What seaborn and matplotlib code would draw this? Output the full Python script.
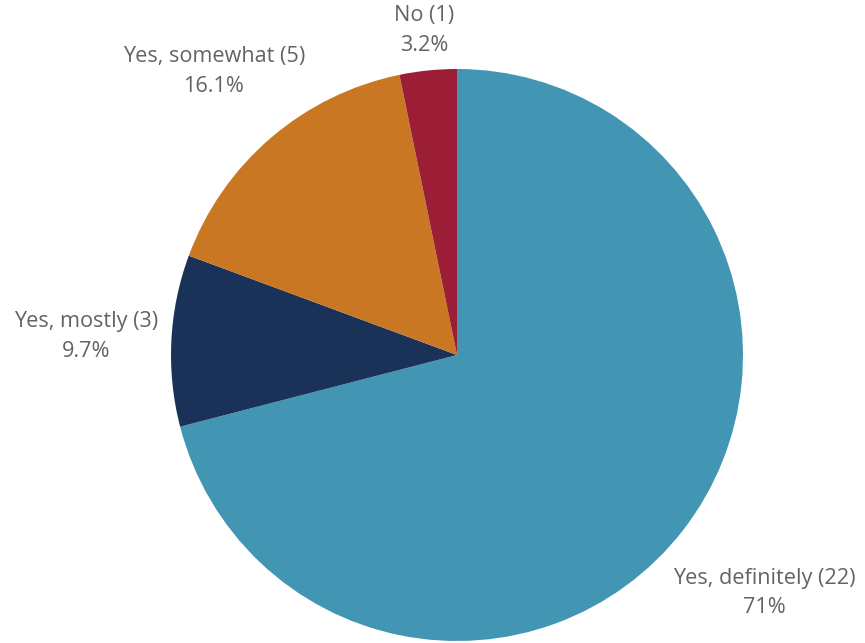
import numpy as np
import matplotlib
matplotlib.use("Agg")
import matplotlib.pyplot as plt
import seaborn as sns

# Survey responses
categories = ["Yes, definitely", "Yes, mostly", "Yes, somewhat", "No"]
counts = [22, 3, 5, 1]
colors = ["#4396B3", "#1A3258", "#C97722", "#9B1E36"]
# radial distance of each label (in pie radii)
label_dist = [1.36, 1.30, 1.305, 1.14]

sns.set_theme(style="white")
plt.rcParams["font.family"] = ["Open Sans", "DejaVu Sans"]

W, H = 865, 643
fig = plt.figure(figsize=(W / 100, H / 100), dpi=100)
cx, cy, r = 457, 355, 286
ax = fig.add_axes([(cx - r) / W, (H - cy - r) / H, 2 * r / W, 2 * r / H])

wedges, _ = ax.pie(counts, colors=sns.color_palette(colors), startangle=90,
                   counterclock=False, radius=1.0,
                   wedgeprops=dict(linewidth=0))
ax.set_xlim(-1, 1)
ax.set_ylim(-1, 1)
ax.set_aspect("equal")
ax.set_axis_off()

total = sum(counts)
for w, name, n, d in zip(wedges, categories, counts, label_dist):
    mid = np.deg2rad((w.theta1 + w.theta2) / 2)
    pct = round(100 * n / total, 1)
    pct_s = f"{pct:g}%"
    ax.text(d * np.cos(mid), d * np.sin(mid), f"{name} ({n})\n{pct_s}",
            ha="center", va="center", fontsize=15.6, color="#636363",
            linespacing=1.55, clip_on=False)

fig.savefig("out.png", dpi=100, facecolor="white")
